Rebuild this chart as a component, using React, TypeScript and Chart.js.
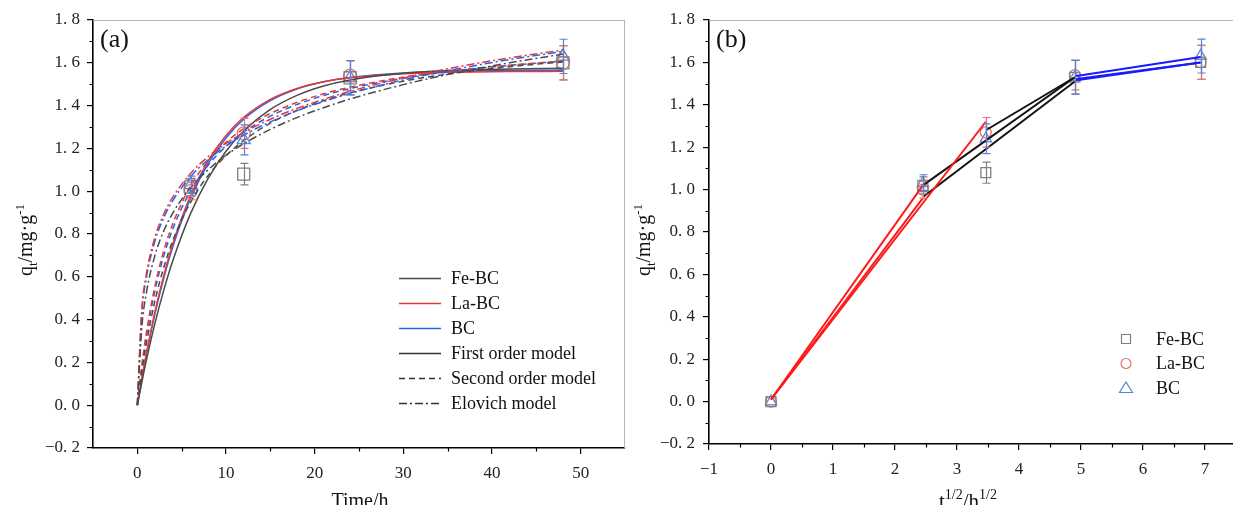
import React, { useEffect, useRef } from "react";
import { Chart, registerables } from "chart.js";
Chart.register(...registerables);

// ---------------- data: panel (a) ----------------
const tFit = [0, 0.5, 1, 2, 3, 4, 6, 8, 10, 12, 15, 18, 21, 24, 30, 36, 42, 48];
const feFirst = [0, 0.106, 0.206, 0.385, 0.54, 0.675, 0.895, 1.061, 1.187, 1.281, 1.382, 1.448, 1.492, 1.52, 1.551, 1.565, 1.571, 1.574];
const laFirst = [0, 0.124, 0.237, 0.439, 0.609, 0.754, 0.98, 1.143, 1.26, 1.345, 1.429, 1.48, 1.511, 1.53, 1.549, 1.556, 1.559, 1.56];
const bcFirst = [0, 0.12, 0.231, 0.429, 0.597, 0.74, 0.966, 1.13, 1.249, 1.336, 1.423, 1.477, 1.511, 1.531, 1.552, 1.56, 1.564, 1.565];
const feSecond = [0, 0.154, 0.284, 0.49, 0.646, 0.769, 0.948, 1.074, 1.166, 1.237, 1.318, 1.377, 1.423, 1.46, 1.514, 1.553, 1.582, 1.604];
const laSecond = [0, 0.184, 0.333, 0.56, 0.724, 0.848, 1.024, 1.142, 1.228, 1.292, 1.363, 1.415, 1.455, 1.486, 1.533, 1.565, 1.589, 1.608];
const bcSecond = [0, 0.174, 0.317, 0.538, 0.7, 0.824, 1.001, 1.122, 1.21, 1.276, 1.351, 1.405, 1.447, 1.48, 1.528, 1.563, 1.588, 1.608];
const feElovich = [0, 0.36, 0.52, 0.702, 0.816, 0.898, 1.016, 1.101, 1.168, 1.222, 1.289, 1.344, 1.39, 1.431, 1.498, 1.554, 1.6, 1.641];
const laElovich = [0, 0.445, 0.609, 0.787, 0.895, 0.972, 1.083, 1.162, 1.223, 1.274, 1.336, 1.387, 1.429, 1.467, 1.529, 1.58, 1.623, 1.66];
const bcElovich = [0, 0.427, 0.59, 0.769, 0.878, 0.956, 1.068, 1.148, 1.211, 1.262, 1.324, 1.376, 1.419, 1.457, 1.52, 1.571, 1.615, 1.653];

const tExp = [6, 12, 24, 48];
const feExp = [1.02, 1.08, 1.53, 1.6];
const feErr = [0.04, 0.05, 0.08, 0.08];
const laExp = [1.0, 1.27, 1.54, 1.6];
const laErr = [0.04, 0.07, 0.07, 0.08];
const bcExp = [1.03, 1.24, 1.53, 1.63];
const bcErr = [0.04, 0.07, 0.08, 0.08];

// ---------------- data: panel (b) ----------------
const sqrtT = [0, 2.449, 3.464, 4.899, 6.928];
const feIpd = [0, 1.02, 1.08, 1.53, 1.6];
const feIpdErr = [0, 0.04, 0.05, 0.08, 0.08];
const laIpd = [0, 1.0, 1.27, 1.54, 1.6];
const laIpdErr = [0, 0.04, 0.07, 0.07, 0.08];
const bcIpd = [0, 1.03, 1.24, 1.53, 1.63];
const bcIpdErr = [0, 0.04, 0.07, 0.08, 0.08];

const stage1X = [0, 2.449];
const stage1XLa = [0, 3.464];
const fe1 = [0.01, 0.96];
const la1 = [0.01, 1.32];
const bc1 = [0.01, 1.02];
const stage2X = [2.449, 4.899];
const stage2XLa = [3.464, 4.899];
const fe2 = [0.965, 1.51];
const la2 = [1.28, 1.53];
const bc2 = [1.02, 1.53];
const stage3X = [4.899, 6.928];
const fe3 = [1.515, 1.6];
const la3 = [1.52, 1.6];
const bc3 = [1.535, 1.625];

// ---------------- ticks & labels ----------------
const yTicks = [-0.2, 0, 0.2, 0.4, 0.6, 0.8, 1.0, 1.2, 1.4, 1.6, 1.8];
const yMinor = [-0.1, 0.1, 0.3, 0.5, 0.7, 0.9, 1.1, 1.3, 1.5, 1.7];
const xTicksA = [0, 10, 20, 30, 40, 50];
const xMinorA = [5, 15, 25, 35, 45];
const xTicksB = [-1, 0, 1, 2, 3, 4, 5, 6, 7];
const xMinorB = [-0.5, 0.5, 1.5, 2.5, 3.5, 4.5, 5.5, 6.5];
const seriesNames = ["Fe-BC", "La-BC", "BC"];
const modelNames = ["First order model", "Second order model", "Elovich model"];

// ---------------- styles ----------------
const SERIF = "'Liberation Serif', 'Times New Roman', serif";
const CG = "#4a4a4a";
const CR = "#e53935";
const CB = "#2563eb";
const MG = "#808080";
const MR = "#e57373";
const MB = "#5582dc";
const DASH = [6, 4];
const DASHDOT = [8, 3, 2, 3];

const fmtY = (v: number) => (v < 0 ? "\u2212" : "") + Math.abs(v).toFixed(1).replace(".", ". ");
const fmtX = (v: number) => (v < 0 ? "\u2212" : "") + String(Math.abs(v));

type Part = { t: string; s?: "sub" | "sup" };
function drawRich(ctx: CanvasRenderingContext2D, parts: Part[], x: number, y: number, size: number, rotate: boolean) {
  ctx.save();
  ctx.translate(x, y);
  if (rotate) ctx.rotate(-Math.PI / 2);
  const fontFor = (p: Part) => `${p.s ? Math.round(size * 0.66) : size}px ${SERIF}`;
  let w = 0;
  parts.forEach((p) => {
    ctx.font = fontFor(p);
    w += ctx.measureText(p.t).width;
  });
  let cx = -w / 2;
  ctx.textAlign = "left";
  ctx.textBaseline = "alphabetic";
  ctx.fillStyle = "#111";
  parts.forEach((p) => {
    ctx.font = fontFor(p);
    const dy = p.s === "sub" ? size * 0.25 : p.s === "sup" ? -size * 0.42 : 0;
    ctx.fillText(p.t, cx, dy);
    cx += ctx.measureText(p.t).width;
  });
  ctx.restore();
}

const errorBarPlugin = {
  id: "errbars",
  afterDatasetsDraw(chart: any) {
    const ctx = chart.ctx as CanvasRenderingContext2D;
    const xs = chart.scales.x;
    const ys = chart.scales.y;
    chart.data.datasets.forEach((ds: any) => {
      if (!ds.errors) return;
      ctx.save();
      ctx.strokeStyle = ds.pointBorderColor;
      ctx.lineWidth = 1.2;
      ds.data.forEach((p: any, i: number) => {
        const e = ds.errors[i];
        if (!e) return;
        const px = Math.round(xs.getPixelForValue(p.x)) + 0.5;
        const y1 = ys.getPixelForValue(p.y + e);
        const y2 = ys.getPixelForValue(p.y - e);
        ctx.beginPath();
        ctx.moveTo(px, y1);
        ctx.lineTo(px, y2);
        ctx.moveTo(px - 4, y1);
        ctx.lineTo(px + 4, y1);
        ctx.moveTo(px - 4, y2);
        ctx.lineTo(px + 4, y2);
        ctx.stroke();
      });
      ctx.restore();
    });
  },
};

function framePlugin(xMinor: number[], rightBorder: boolean) {
  return {
    id: "frame",
    afterDraw(chart: any) {
      const ctx = chart.ctx as CanvasRenderingContext2D;
      const a = chart.chartArea;
      ctx.save();
      ctx.strokeStyle = "#b5b5b5";
      ctx.lineWidth = 1;
      ctx.beginPath();
      ctx.moveTo(a.left, a.top + 0.5);
      ctx.lineTo(a.right, a.top + 0.5);
      if (rightBorder) {
        ctx.moveTo(a.right - 0.5, a.top);
        ctx.lineTo(a.right - 0.5, a.bottom);
      }
      ctx.stroke();
      ctx.strokeStyle = "#000";
      ctx.lineWidth = 1.2;
      ctx.beginPath();
      xMinor.forEach((v) => {
        const px = Math.round(chart.scales.x.getPixelForValue(v)) + 0.5;
        ctx.moveTo(px, a.bottom);
        ctx.lineTo(px, a.bottom + 3.5);
      });
      yMinor.forEach((v) => {
        const py = Math.round(chart.scales.y.getPixelForValue(v)) + 0.5;
        ctx.moveTo(a.left, py);
        ctx.lineTo(a.left - 3.5, py);
      });
      ctx.stroke();
      ctx.restore();
    },
  };
}

const xy = (xs: number[], ys: number[]) => xs.map((x, i) => ({ x, y: ys[i] }));

const curve = (ys: number[], color: string, dash: number[]) => ({
  data: xy(tFit, ys),
  borderColor: color,
  borderWidth: 1.5,
  borderDash: dash,
  pointRadius: 0,
  cubicInterpolationMode: "monotone",
  fill: false,
});

const marker = (xs: number[], ys: number[], errs: number[], color: string, style: string, r: number) => ({
  data: xy(xs, ys),
  showLine: false,
  pointStyle: style,
  pointRadius: r,
  pointBorderColor: color,
  pointBackgroundColor: "rgba(255,255,255,0)",
  pointBorderWidth: 1.3,
  errors: errs,
});

const segment = (xs: number[], ys: number[], color: string) => ({
  data: xy(xs, ys),
  borderColor: color,
  borderWidth: 2,
  pointRadius: 0,
  fill: false,
});

function scales(xMin: number, xMax: number, xTicks: number[], yWidth: number, xHeight: number, yPad: number, xPad: number) {
  const tickFont = { family: SERIF, size: 17 };
  const grid = { display: true, drawOnChartArea: false, drawTicks: true, tickLength: 6, color: "#000", lineWidth: 1.2 };
  const border = { display: true, color: "#000", width: 1.6 };
  return {
    x: {
      type: "linear",
      min: xMin,
      max: xMax,
      afterBuildTicks: (s: any) => {
        s.ticks = xTicks.map((v) => ({ value: v }));
      },
      afterFit: (s: any) => {
        s.height = xHeight;
        s.paddingLeft = 0;
        s.paddingRight = 0;
      },
      grid,
      border,
      ticks: { font: tickFont, color: "#222", padding: xPad, maxRotation: 0, callback: (v: any) => fmtX(Number(v)) },
    },
    y: {
      type: "linear",
      min: -0.2,
      max: 1.8,
      afterBuildTicks: (s: any) => {
        s.ticks = yTicks.map((v) => ({ value: v }));
      },
      afterFit: (s: any) => {
        s.width = yWidth;
        s.paddingTop = 0;
        s.paddingBottom = 0;
      },
      grid,
      border,
      ticks: { font: tickFont, color: "#222", padding: yPad, callback: (v: any) => fmtY(Number(v)) },
    },
  };
}

const baseOptions = {
  responsive: false,
  animation: false,
  events: [],
  plugins: { legend: { display: false }, tooltip: { enabled: false } },
};

function leftConfig(): any {
  const deco = {
    id: "decoA",
    afterDraw(chart: any) {
      const ctx = chart.ctx as CanvasRenderingContext2D;
      drawRich(ctx, [{ t: "q" }, { t: "t", s: "sub" }, { t: "/mg\u00b7g" }, { t: "-1", s: "sup" }], 32, 240, 20, true);
      drawRich(ctx, [{ t: "Time/h" }], 360, 507, 20, false);
      ctx.save();
      ctx.font = `26px ${SERIF}`;
      ctx.fillStyle = "#111";
      ctx.textBaseline = "alphabetic";
      ctx.textAlign = "left";
      ctx.fillText("(a)", 100, 47);
      // legend
      const colors = [CG, CR, CB];
      const dashes = [[], DASH, DASHDOT];
      ctx.font = `18px ${SERIF}`;
      ctx.textBaseline = "middle";
      for (let i = 0; i < 6; i++) {
        const y = 278 + i * 25;
        ctx.beginPath();
        ctx.lineWidth = 1.6;
        ctx.strokeStyle = i < 3 ? colors[i] : "#333";
        ctx.setLineDash(i < 3 ? [] : dashes[i - 3]);
        ctx.moveTo(399, y + 0.5);
        ctx.lineTo(441, y + 0.5);
        ctx.stroke();
        ctx.setLineDash([]);
        ctx.fillStyle = "#111";
        ctx.fillText(i < 3 ? seriesNames[i] : modelNames[i - 3], 451, y + 1);
      }
      ctx.restore();
    },
  };
  return {
    type: "line",
    data: {
      datasets: [
        curve(feElovich, CG, DASHDOT),
        curve(laElovich, CR, DASHDOT),
        curve(bcElovich, CB, DASHDOT),
        curve(feSecond, CG, DASH),
        curve(laSecond, CR, DASH),
        curve(bcSecond, CB, DASH),
        curve(feFirst, CG, []),
        curve(laFirst, CR, []),
        curve(bcFirst, CB, []),
        marker(tExp, feExp, feErr, MG, "rect", 8.5),
        marker(tExp, laExp, laErr, MR, "circle", 6.5),
        marker(tExp, bcExp, bcErr, MB, "triangle", 7.5),
      ],
    },
    options: {
      ...baseOptions,
      layout: { autoPadding: false, padding: { top: 20, right: 5, left: 0, bottom: 0 } },
      scales: scales(-5, 55, xTicksA, 93, 57, 7, 9),
    },
    plugins: [errorBarPlugin, framePlugin(xMinorA, true), deco],
  };
}

function rightConfig(): any {
  const deco = {
    id: "decoB",
    afterDraw(chart: any) {
      const ctx = chart.ctx as CanvasRenderingContext2D;
      drawRich(ctx, [{ t: "q" }, { t: "t", s: "sub" }, { t: "/mg\u00b7g" }, { t: "-1", s: "sup" }], 20, 240, 20, true);
      drawRich(ctx, [{ t: "t" }, { t: "1/2", s: "sup" }, { t: "/h" }, { t: "1/2", s: "sup" }], 338, 508, 21, false);
      ctx.save();
      ctx.font = `26px ${SERIF}`;
      ctx.fillStyle = "#111";
      ctx.textBaseline = "alphabetic";
      ctx.textAlign = "left";
      ctx.fillText("(b)", 86, 47);
      // legend
      const colors = [MG, MR, MB];
      ctx.font = `18px ${SERIF}`;
      ctx.textBaseline = "middle";
      ctx.lineWidth = 1.2;
      const mx = 1126 - 630;
      for (let i = 0; i < 3; i++) {
        const y = 339 + i * 24.5;
        ctx.strokeStyle = colors[i];
        ctx.beginPath();
        if (i === 0) ctx.rect(mx - 4.5, y - 4.5, 9, 9);
        else if (i === 1) ctx.arc(mx, y, 5, 0, Math.PI * 2);
        else {
          ctx.moveTo(mx, y - 6);
          ctx.lineTo(mx + 6.5, y + 4.5);
          ctx.lineTo(mx - 6.5, y + 4.5);
          ctx.closePath();
        }
        ctx.stroke();
        ctx.fillStyle = "#111";
        ctx.fillText(seriesNames[i], 1156 - 630, y + 1);
      }
      ctx.restore();
    },
  };
  return {
    type: "line",
    data: {
      datasets: [
        segment(stage1X, fe1, "#ff1a1a"),
        segment(stage1XLa, la1, "#ff1a1a"),
        segment(stage1X, bc1, "#ff1a1a"),
        segment(stage2X, fe2, "#111111"),
        segment(stage2XLa, la2, "#111111"),
        segment(stage2X, bc2, "#111111"),
        segment(stage3X, fe3, "#1a1aff"),
        segment(stage3X, la3, "#1a1aff"),
        segment(stage3X, bc3, "#1a1aff"),
        marker(sqrtT, feIpd, feIpdErr, MG, "rect", 7),
        marker(sqrtT, laIpd, laIpdErr, MR, "circle", 5.5),
        marker(sqrtT, bcIpd, bcIpdErr, MB, "triangle", 6.5),
      ],
    },
    options: {
      ...baseOptions,
      layout: { autoPadding: false, padding: { top: 20, right: 0, left: 0, bottom: 0 } },
      scales: scales(-1, 7.45, xTicksB, 79, 61, 8, 9),
    },
    plugins: [errorBarPlugin, framePlugin(xMinorB, false), deco],
  };
}

export default function App() {
  const leftRef = useRef<HTMLCanvasElement>(null);
  const rightRef = useRef<HTMLCanvasElement>(null);
  useEffect(() => {
    const a = new Chart(leftRef.current as HTMLCanvasElement, leftConfig());
    const b = new Chart(rightRef.current as HTMLCanvasElement, rightConfig());
    return () => {
      a.destroy();
      b.destroy();
    };
  }, []);
  return (
    <div style={{ position: "fixed", left: 0, top: 0, width: 1233, height: 505, background: "#fff", overflow: "hidden" }}>
      <canvas ref={leftRef} width={630} height={505} style={{ position: "absolute", left: 0, top: 0, width: 630, height: 505 }} />
      <canvas ref={rightRef} width={603} height={505} style={{ position: "absolute", left: 630, top: 0, width: 603, height: 505 }} />
    </div>
  );
}
